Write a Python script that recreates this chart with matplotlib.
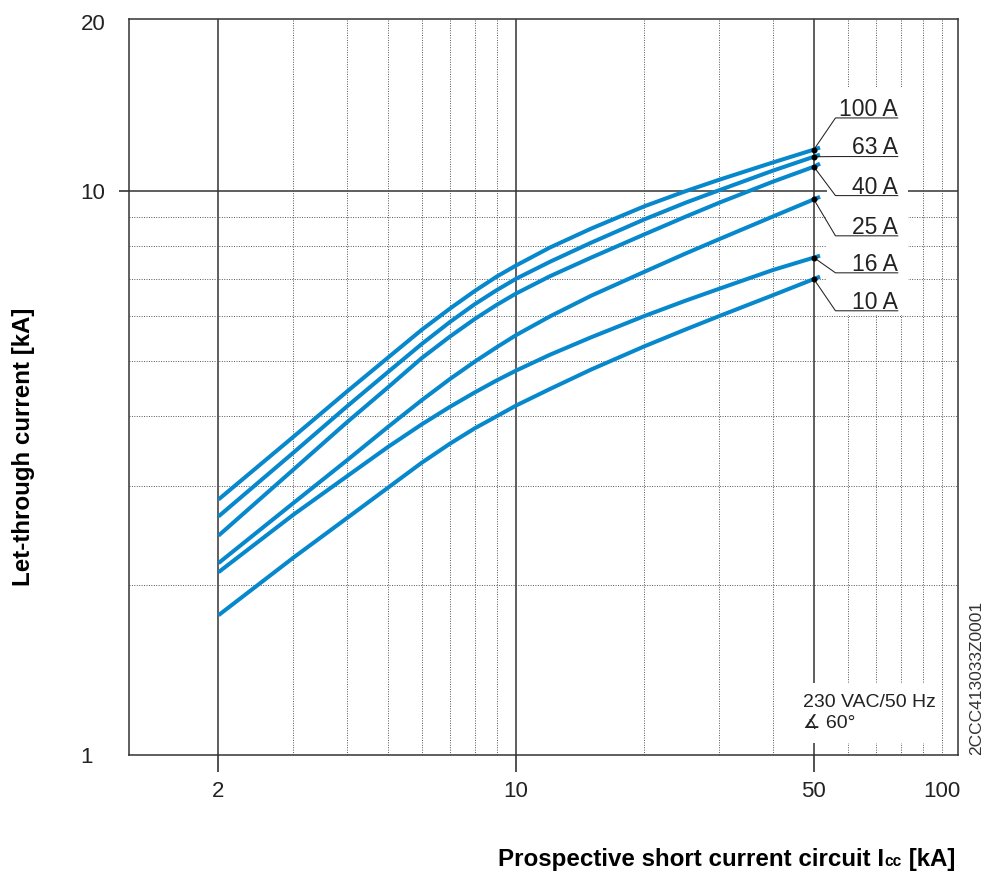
import matplotlib
matplotlib.use("Agg")
from matplotlib import pyplot as plt
from matplotlib.patches import Rectangle
from matplotlib.ticker import NullLocator

# prospective short-circuit current Icc [kA]
icc = [2, 3, 4, 5, 6, 7, 8, 9, 10, 12, 15, 20, 25, 30, 40, 50, 51.7]

# let-through current [kA] for each rated current
i_100 = [2.84, 3.67, 4.41, 5.07, 5.68, 6.20, 6.66, 7.06, 7.39, 7.95, 8.59, 9.41, 10.01, 10.49, 11.25, 11.86, 11.96]
i_63 = [2.65, 3.44, 4.15, 4.78, 5.36, 5.87, 6.31, 6.68, 7.00, 7.50, 8.11, 8.92, 9.55, 10.05, 10.88, 11.52, 11.62]
i_40 = [2.45, 3.21, 3.89, 4.49, 5.06, 5.53, 5.94, 6.29, 6.59, 7.07, 7.63, 8.39, 9.02, 9.55, 10.40, 11.06, 11.20]
i_25 = [2.19, 2.80, 3.33, 3.82, 4.26, 4.65, 4.99, 5.29, 5.56, 6.00, 6.53, 7.20, 7.76, 8.23, 9.02, 9.68, 9.78]
i_16 = [2.11, 2.67, 3.12, 3.52, 3.86, 4.15, 4.40, 4.62, 4.81, 5.13, 5.51, 6.01, 6.40, 6.72, 7.25, 7.63, 7.69]
i_10 = [1.77, 2.24, 2.63, 2.98, 3.30, 3.57, 3.80, 3.99, 4.17, 4.46, 4.83, 5.31, 5.69, 6.01, 6.54, 6.99, 7.06]

ratings = ['100 A', '63 A', '40 A', '25 A', '16 A', '10 A']
curves = [i_100, i_63, i_40, i_25, i_16, i_10]

x_ticks = [2, 10, 50, 100]
y_ticks = [1, 10, 20]
x_major = [2, 10, 50]
x_minor = [3, 4, 5, 6, 7, 8, 9, 20, 30, 40, 60, 70, 80, 90, 100]
y_major = [10]
y_minor = [2, 3, 4, 5, 6, 7, 8, 9]

# heights of the label underlines (layout)
label_y = [13.5, 11.53, 9.83, 8.34, 7.17, 6.14]

blue = '#0788CC'
dark = '#222222'

plt.rcParams['font.family'] = ['Liberation Sans', 'DejaVu Sans']

W, H = 984, 872
fig = plt.figure(figsize=(W / 100, H / 100), dpi=100)
ax = fig.add_axes([129 / W, 1 - 755 / H, (958 - 129) / W, (755 - 19.3) / H])
ax.set_xscale('log')
ax.set_yscale('log')
ax.set_xlim(1.233, 109)
ax.set_ylim(1, 20.2)

for x in x_major:
    ax.axvline(x, color='#333333', lw=1.1, zorder=1)
for y in y_major:
    ax.axhline(y, color='#333333', lw=1.1, zorder=1)
for x in x_minor:
    ax.axvline(x, color='#555555', lw=0.7, ls=(0, (1, 1.5)), zorder=1)
for y in y_minor:
    ax.axhline(y, color='#555555', lw=0.7, ls=(0, (1, 1.5)), zorder=1)

# white backgrounds behind the labels
ax.add_patch(Rectangle((53.6, 6.04), 83.1 - 53.6, 15.3 - 6.04,
                       facecolor='white', edgecolor='none', zorder=2))
ax.add_patch(Rectangle((46.6, 1.05), 96.7 - 46.6, 1.342 - 1.05,
                       facecolor='white', edgecolor='none', zorder=2))

i50 = icc.index(50)
for name, vals, ly in zip(ratings, curves, label_y):
    ax.plot(icc, vals, color=blue, lw=2.9, solid_capstyle='butt',
            solid_joinstyle='round', zorder=3)
    ax.plot([50], [vals[i50]], 'o', color='black', ms=3.3, zorder=5)
    ax.plot([50, 56.2, 78.7], [vals[i50], ly, ly], color=dark, lw=0.75, zorder=4)
    ax.annotate(name, (78.7, ly), xytext=(0, 1.5), textcoords='offset points',
                ha='right', va='baseline', fontsize=16.5, color=dark, zorder=5)

ax.text(47.1, 1.217, '230 VAC/50 Hz', ha='left', va='baseline', fontsize=14, color=dark, zorder=5)
ax.text(47.1, 1.117, '\u2221 60\u00b0', ha='left', va='baseline', fontsize=14, color=dark, zorder=5)

ax.set_xticks(x_ticks)
ax.set_xticklabels([str(v) for v in x_ticks])
ax.set_yticks(y_ticks)
ax.set_yticklabels([str(v) for v in y_ticks], ha='left')
ax.xaxis.set_minor_locator(NullLocator())
ax.yaxis.set_minor_locator(NullLocator())
ax.tick_params(axis='x', direction='out', length=12.5, width=1.1, pad=6,
               labelsize=16, colors=dark)
ax.tick_params(axis='y', direction='out', length=7, width=1.1, pad=28,
               labelsize=16, colors=dark)
ax.xaxis.get_major_ticks()[3].tick1line.set_visible(False)
ax.yaxis.get_major_ticks()[0].tick1line.set_visible(False)
ax.yaxis.get_major_ticks()[2].tick1line.set_visible(False)

for s in ax.spines.values():
    s.set_color('#333333')
    s.set_linewidth(1.1)

fig.text(24 / W, 1 - 447 / H, 'Let-through current [kA]', rotation=90,
         ha='center', va='center', fontsize=17.4, fontweight='bold', color='black')

# x label built from pieces so that "cc" can be small
renderer = fig.canvas.get_renderer()
yb = 1 - 866 / H
t3 = fig.text(955 / W, yb, ' [kA]', ha='right', va='baseline',
              fontsize=17.4, fontweight='bold')
x3 = t3.get_window_extent(renderer).x0
t2 = fig.text(x3 / W, yb, 'cc', ha='right', va='baseline',
              fontsize=11.2, fontweight='bold')
x2 = t2.get_window_extent(renderer).x0
fig.text(x2 / W, yb, 'Prospective short current circuit I', ha='right',
         va='baseline', fontsize=17.4, fontweight='bold')

fig.text(977 / W, 1 - 755 / H, '2CCC413033Z0001', rotation=90, ha='center',
         va='bottom', fontsize=12.5, color='#333333')

fig.savefig('out.png', dpi=100)
